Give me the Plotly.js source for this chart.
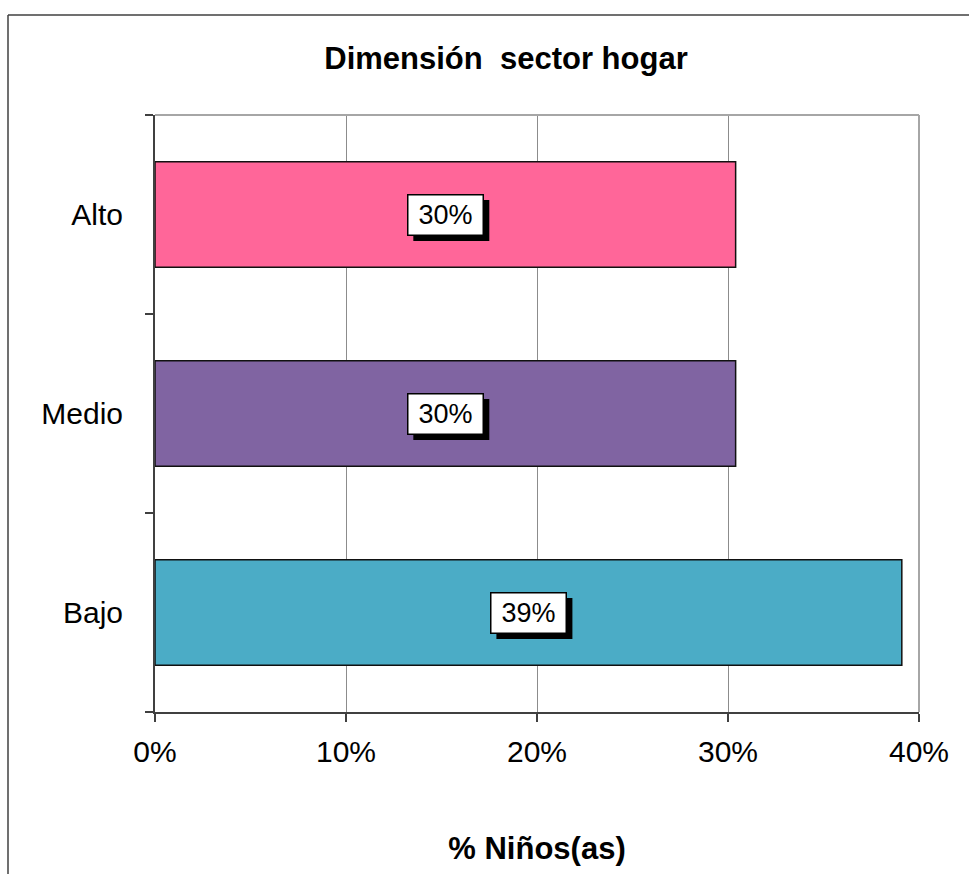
<!DOCTYPE html>
<html>
<head>
<meta charset="utf-8">
<script src="https://cdn.plot.ly/plotly-3.0.1.min.js"></script>
<style>
  html, body { margin: 0; padding: 0; background: #ffffff; }
  #chart { width: 969px; height: 874px; }
</style>
</head>
<body>
<div id="chart"></div>
<script>
// Household sector breakdown (% of children)
const categories = ['Bajo', 'Medio', 'Alto'];
const values = [39.1, 30.4, 30.4];
const barColors = ['#4BACC6', '#8064A2', '#FF6699'];
const xTickValues = [0, 10, 20, 30, 40];
const xTickLabels = ['0%', '10%', '20%', '30%', '40%'];

const W = 969, H = 874;
const M = { l: 155, r: 50, t: 115, b: 162 };
const plotW = W - M.l - M.r, plotH = H - M.t - M.b;
const FONT = 'Liberation Sans, Arial, sans-serif';

// pixel -> paper helpers for the outer frame
const px = x => (x - M.l) / plotW;
const py = y => (H - M.b - y) / plotH;

const labels = values.map(v => Math.round(v) + '%');

// value boxes, half box size in pixels and shadow offset
const BOX_HW = 38, BOX_HH = 20.5, SH = 6;

const annotations = categories.map((c, i) => ({
  x: values[i] / 2, y: c, xref: 'x', yref: 'y',
  text: labels[i], showarrow: false,
  font: { family: FONT, size: 27, color: '#000000' },
  bgcolor: '#ffffff', bordercolor: '#000000', borderwidth: 1.5,
  width: 70, height: 35, borderpad: 2
}));

// drop shadows behind the value boxes
const shadowShapes = categories.map((c, i) => ({
  type: 'rect', layer: 'above',
  xref: 'x', xsizemode: 'pixel', xanchor: values[i] / 2,
  x0: -BOX_HW + SH, x1: BOX_HW + SH,
  yref: 'y', ysizemode: 'pixel', yanchor: i,
  y0: -BOX_HH - SH, y1: BOX_HH - SH,
  fillcolor: '#000000', line: { width: 0 }
}));

const trace = {
  type: 'bar',
  orientation: 'h',
  y: categories,
  x: values,
  marker: { color: barColors, line: { color: '#111111', width: 1.5 } },
  width: 0.53,
  hoverinfo: 'skip'
};

const layout = {
  width: W, height: H,
  margin: M,
  paper_bgcolor: '#ffffff',
  plot_bgcolor: '#ffffff',
  showlegend: false,
  title: {
    text: 'Dimensión\u00a0 sector hogar',
    font: { family: FONT, size: 31, color: '#000000', weight: 'bold' },
    xref: 'container', yref: 'container',
    x: 506 / W, y: 1 - 58 / H, xanchor: 'center', yanchor: 'middle'
  },
  xaxis: {
    range: [0, 40],
    tickvals: xTickValues,
    ticktext: xTickLabels,
    ticks: 'outside', ticklen: 8, tickwidth: 2, tickcolor: '#404040',
    showline: true, linecolor: '#404040', linewidth: 2,
    showgrid: true, gridcolor: '#8c8c8c', gridwidth: 1,
    zeroline: false,
    tickfont: { family: FONT, size: 30, color: '#000000' },
    ticklabelstandoff: 4,
    title: {
      text: '% Niños(as)',
      font: { family: FONT, size: 31, color: '#000000', weight: 'bold' },
      standoff: 70
    },
    fixedrange: true
  },
  yaxis: {
    type: 'category',
    range: [-0.5, 2.5],
    ticks: 'outside', ticklen: 8, tickwidth: 2, tickcolor: '#404040',
    tickson: 'boundaries',
    showline: true, linecolor: '#404040', linewidth: 2,
    showgrid: false, zeroline: false,
    tickfont: { family: FONT, size: 30, color: '#000000' },
    ticklabelstandoff: 24,
    fixedrange: true
  },
  shapes: [
    // plot area top border
    { type: 'line', xref: 'paper', yref: 'paper', x0: 0, x1: 1, y0: 1, y1: 1,
      line: { color: '#a6a6a6', width: 2 } },
    // plot area right border
    { type: 'line', xref: 'paper', yref: 'paper', x0: 1, x1: 1, y0: 0, y1: 1,
      line: { color: '#a6a6a6', width: 2 } },
    // outer chart frame (top and left edges)
    { type: 'line', xref: 'paper', yref: 'paper', x0: px(8), x1: px(W + 5), y0: py(15), y1: py(15),
      line: { color: '#404040', width: 1.5 } },
    { type: 'line', xref: 'paper', yref: 'paper', x0: px(8), x1: px(8), y0: py(15), y1: py(H + 5),
      line: { color: '#404040', width: 1.5 } }
  ].concat(shadowShapes),
  annotations: annotations
};

Plotly.newPlot('chart', [trace], layout, { displayModeBar: false, staticPlot: true });
</script>
</body>
</html>
